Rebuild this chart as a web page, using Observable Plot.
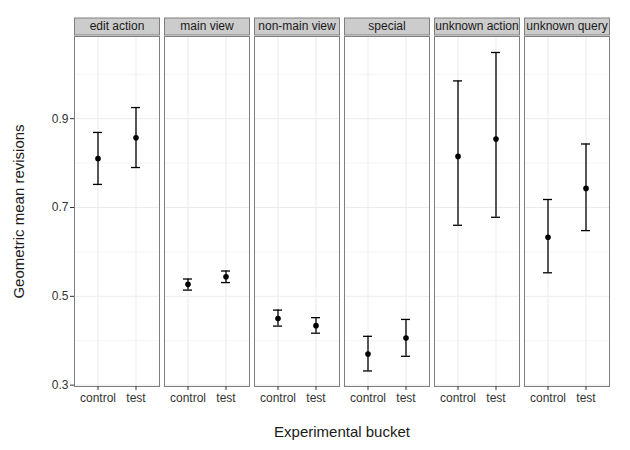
<!DOCTYPE html>
<html><head><meta charset="utf-8">
<script src="https://cdn.jsdelivr.net/npm/d3@7"></script>
<script src="https://cdn.jsdelivr.net/npm/@observablehq/plot@0.6"></script>
<style>
body{margin:0;background:#fff}
svg{font-family:"Liberation Sans",Arial,Helvetica,sans-serif}
</style>
</head><body><div id="chart"></div>
<script>
const categories = ["edit action","main view","non-main view","special","unknown action","unknown query"];
const buckets = ["control","test"];
const controlMean  = [0.810, 0.527, 0.450, 0.370, 0.815, 0.633];
const controlLower = [0.752, 0.514, 0.433, 0.332, 0.660, 0.553];
const controlUpper = [0.869, 0.539, 0.469, 0.410, 0.985, 0.718];
const testMean  = [0.857, 0.544, 0.434, 0.406, 0.854, 0.743];
const testLower = [0.790, 0.531, 0.417, 0.365, 0.678, 0.648];
const testUpper = [0.925, 0.557, 0.452, 0.448, 1.049, 0.843];
const majorTicks = [0.3, 0.5, 0.7, 0.9];
const minorTicks = [0.4, 0.6, 0.8, 1.0];

const rows = [];
categories.forEach((c, i) => {
  rows.push({category: c, bucket: buckets[0], mean: controlMean[i], lower: controlLower[i], upper: controlUpper[i]});
  rows.push({category: c, bucket: buckets[1], mean: testMean[i], lower: testLower[i], upper: testUpper[i]});
});

const ink = "#1a1a1a";
const plot = Plot.plot({
  width: 630, height: 450,
  marginTop: 36, marginBottom: 64, marginLeft: 72, marginRight: 18,
  style: {fontFamily: "'Liberation Sans', Arial, sans-serif", fontSize: "12px", color: ink, background: "#fff"},
  fx: {domain: categories, paddingInner: 0.053, paddingOuter: 0, label: null},
  x: {type: "band", domain: buckets, paddingInner: 0.769, paddingOuter: 0.487, label: null},
  y: {domain: [0.297, 1.085], label: null},
  marks: [
    Plot.frame({fill: "#cccccc", stroke: "#7f7f7f", insetTop: -18.5, insetBottom: 351.5}),
    Plot.gridY({ticks: minorTicks, stroke: "#f5f5f5", strokeOpacity: 1}),
    Plot.gridY({ticks: majorTicks, stroke: "#ebebeb", strokeOpacity: 1}),
    Plot.gridX({stroke: "#ebebeb", strokeOpacity: 1}),
    Plot.frame({stroke: "#7f7f7f"}),
    Plot.axisY({ticks: majorTicks, tickSize: 4, tickPadding: 2, tickFormat: d3.format(".1f"), label: null, color: "#333", fontSize: 12}),
    Plot.axisY({ticks: majorTicks, tickSize: 0, tickFormat: () => "", label: "Geometric mean revisions", labelAnchor: "center", labelArrow: "none", labelOffset: 61, fontSize: 15, color: ink}),
    Plot.axisX({tickSize: 4, tickPadding: 3, label: null, color: "#333", fontSize: 12}),
    Plot.axisFx({anchor: "top", tickSize: 0, tickPadding: 7, label: null, fontSize: 12, color: ink}),
    Plot.axisFx({anchor: "bottom", tickSize: 0, tickFormat: () => "", label: "Experimental bucket", labelAnchor: "center", labelArrow: "none", labelOffset: 50, fontSize: 15, color: ink}),
    Plot.ruleX(rows, {fx: "category", x: "bucket", y1: "lower", y2: "upper", stroke: "black", strokeWidth: 1.3}),
    Plot.tickY(rows, {fx: "category", x: "bucket", y: "upper", stroke: "black", strokeWidth: 1.3}),
    Plot.tickY(rows, {fx: "category", x: "bucket", y: "lower", stroke: "black", strokeWidth: 1.3}),
    Plot.dot(rows, {fx: "category", x: "bucket", y: "mean", r: 2.8, fill: "black", stroke: "none"})
  ]
});
document.getElementById("chart").appendChild(plot);
</script>
</body></html>
